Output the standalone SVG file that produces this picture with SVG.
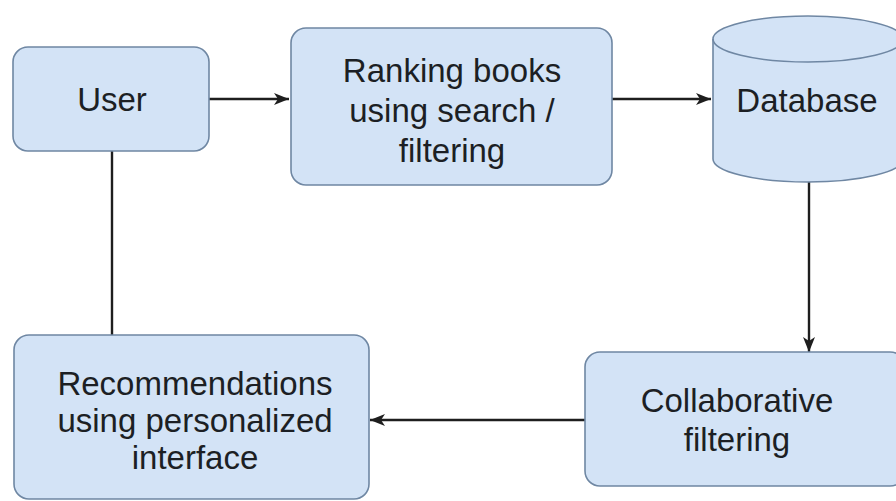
<svg xmlns="http://www.w3.org/2000/svg" width="896" height="501" viewBox="0 0 896 501">
<defs>
<style>
.box{fill:#d3e3f6;stroke:#6f87a3;stroke-width:1.6}
.lbl{font-family:"Liberation Sans",Arial,sans-serif;font-size:33px;fill:#1c1f24;text-anchor:middle}
.edge{stroke:#1e1e1e;stroke-width:2.4;fill:none}
</style>
<marker id="arr" viewBox="0 0 15 12" refX="15" refY="6" markerWidth="15" markerHeight="12" markerUnits="userSpaceOnUse" orient="auto">
<path d="M0,0 L15,6 L0,12 L4,6 Z" fill="#1e1e1e"/>
</marker>
</defs>
<rect width="896" height="501" fill="#ffffff"/>
<g id="connectors">
<path class="edge" d="M209,99 H289" marker-end="url(#arr)"/>
<path class="edge" d="M612,99 H711" marker-end="url(#arr)"/>
<path class="edge" d="M809,182 V352" marker-end="url(#arr)"/>
<path class="edge" d="M585,420 H370" marker-end="url(#arr)"/>
<path class="edge" d="M112,151 V335"/>
</g>
<g id="user">
<rect class="box" x="13" y="47" width="196" height="104" rx="15"/>
<text class="lbl" x="112" y="111">User</text>
</g>
<g id="ranking">
<rect class="box" x="291" y="28" width="321" height="157" rx="15"/>
<text class="lbl" x="452" y="82">Ranking books</text>
<text class="lbl" x="452" y="122">using search /</text>
<text class="lbl" x="452" y="162">filtering</text>
</g>
<g id="database">
<path class="box" d="M713,39 V159 A95,23 0 0 0 903,159 V39 A95,23 0 0 0 713,39 Z"/>
<path class="box" style="fill:none" d="M713,39 A95,23 0 0 0 903,39"/>
<text class="lbl" x="807" y="112">Database</text>
</g>
<g id="collaborative">
<rect class="box" x="585" y="352" width="320" height="134" rx="15"/>
<text class="lbl" x="737" y="412">Collaborative</text>
<text class="lbl" x="737" y="451">filtering</text>
</g>
<g id="recommendations">
<rect class="box" x="14" y="335" width="355" height="164" rx="15"/>
<text class="lbl" x="195" y="395">Recommendations</text>
<text class="lbl" x="195" y="432">using personalized</text>
<text class="lbl" x="195" y="469">interface</text>
</g>
</svg>
